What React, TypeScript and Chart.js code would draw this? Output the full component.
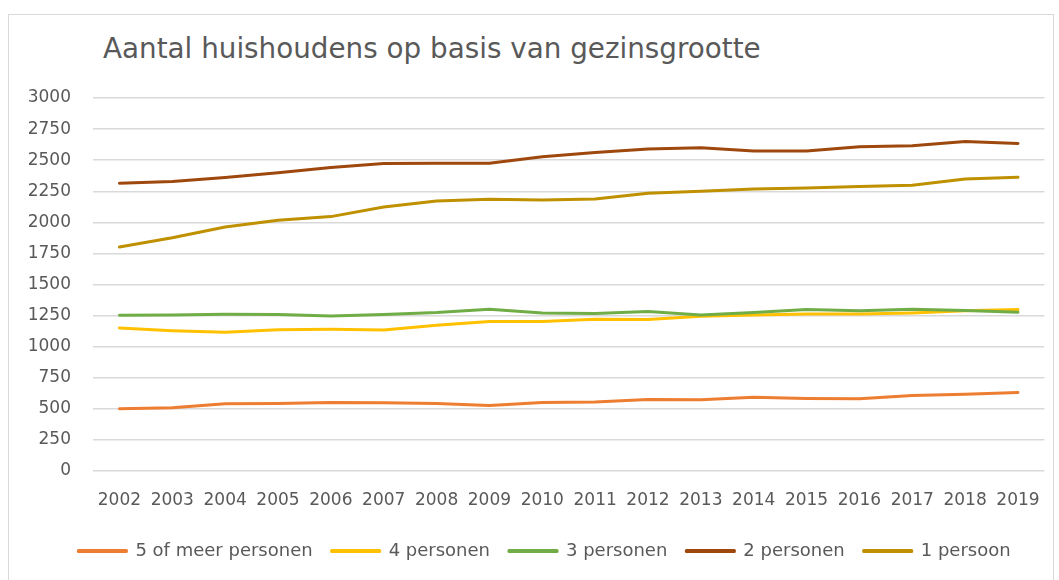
import React, { useEffect, useRef } from "react";
import { Chart, registerables } from "chart.js";

Chart.register(...registerables);

const titleText = "Aantal huishoudens op basis van gezinsgrootte";
const years = ["2002", "2003", "2004", "2005", "2006", "2007", "2008", "2009", "2010", "2011", "2012", "2013", "2014", "2015", "2016", "2017", "2018", "2019"];
const seriesNames = ["5 of meer personen", "4 personen", "3 personen", "2 personen", "1 persoon"];
const vijfOfMeer = [500, 508, 540, 543, 551, 548, 543, 527, 551, 554, 575, 573, 594, 583, 581, 607, 618, 632];
const vierPersonen = [1151, 1129, 1115, 1137, 1140, 1134, 1172, 1202, 1202, 1220, 1218, 1245, 1255, 1263, 1263, 1271, 1288, 1298];
const driePersonen = [1253, 1255, 1261, 1258, 1247, 1258, 1274, 1301, 1271, 1266, 1282, 1255, 1274, 1298, 1288, 1301, 1290, 1277];
const tweePersonen = [2314, 2328, 2360, 2398, 2441, 2473, 2476, 2476, 2527, 2562, 2589, 2599, 2573, 2573, 2608, 2616, 2650, 2634];
const eenPersoon = [1801, 1876, 1962, 2016, 2046, 2124, 2172, 2185, 2180, 2188, 2234, 2250, 2269, 2277, 2288, 2298, 2349, 2363];
const seriesColors = ["#ED7D31", "#FFC000", "#70AD47", "#9E480E", "#BF9000"];
const yMin = 0;
const yMax = 3000;
const yStep = 250;

const FONT = "'DejaVu Sans', Verdana, sans-serif";
const TEXT = "#595959";
const GRID = "#d9d9d9";

export default function App() {
  const ref = useRef<HTMLCanvasElement | null>(null);

  useEffect(() => {
    if (!ref.current) return;
    const values = [vijfOfMeer, vierPersonen, driePersonen, tweePersonen, eenPersoon];
    const chart = new Chart(ref.current, {
      type: "line",
      data: {
        labels: years,
        datasets: values.map((v, i) => ({
          label: seriesNames[i],
          data: v,
          borderColor: seriesColors[i],
          backgroundColor: seriesColors[i],
          borderWidth: 3,
          pointRadius: 0,
          pointHoverRadius: 0,
          tension: 0,
          borderJoinStyle: "round" as const,
          borderCapStyle: "round" as const,
          fill: false,
          order: values.length - 1 - i,
          yAxisID: "y",
        })),
      },
      options: {
        responsive: false,
        animation: false,
        layout: { padding: { left: 0, right: -30, top: 98, bottom: 10 } },
        scales: {
          x: {
            offset: true,
            grid: { display: false, drawTicks: false },
            border: { display: false },
            ticks: { color: TEXT, font: { family: FONT, size: 17 }, padding: 19, maxRotation: 0, autoSkip: false },
            afterFit: (scale: any) => { scale.height = 52; },
          },
          y: {
            min: yMin,
            max: yMax,
            grid: { color: GRID, lineWidth: 1.5, drawTicks: false },
            border: { display: false },
            ticks: {
              stepSize: yStep,
              color: TEXT,
              font: { family: FONT, size: 17 },
              padding: 22,
              callback: (value: any) => String(value),
            },
            afterFit: (scale: any) => { scale.width = 93; },
          },
          spacer: {
            type: "linear",
            position: "right",
            grid: { display: false, drawTicks: false },
            border: { display: false },
            ticks: { display: false },
            afterFit: (scale: any) => { scale.width = 44; },
          },
        },
        plugins: {
          legend: {
            position: "bottom",
            labels: {
              color: TEXT,
              font: { family: FONT, size: 18 },
              boxWidth: 48,
              boxHeight: 1,
              padding: 19,
              sort: (a: any, b: any) => a.datasetIndex - b.datasetIndex,
            },
          },
          title: { display: false },
          tooltip: { enabled: false },
        },
      },
    });
    return () => chart.destroy();
  }, []);

  return (
    <div style={{ position: "fixed", left: 0, top: 0, width: 1059, height: 580, overflow: "hidden", background: "#fff" }}>
      <div style={{ position: "absolute", left: 8, top: 14, width: 1046, height: 620, border: `1px solid ${GRID}`, boxSizing: "border-box" }} />
      <div style={{ position: "absolute", left: 103, top: 35, fontFamily: FONT, fontSize: 27.8, lineHeight: "28px", color: TEXT, whiteSpace: "nowrap" }}>{titleText}</div>
      <canvas ref={ref} width={1059} height={580} style={{ position: "absolute", left: 0, top: 0 }} />
    </div>
  );
}
